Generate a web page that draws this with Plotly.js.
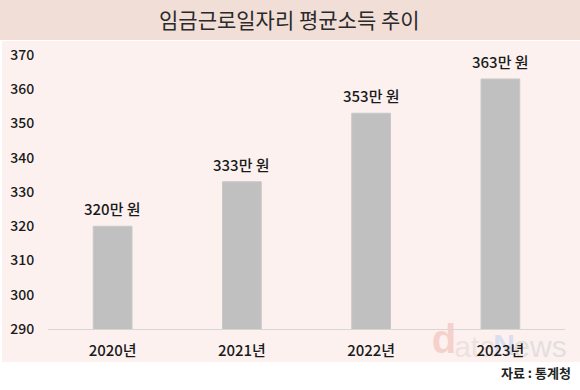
<!DOCTYPE html>
<html><head><meta charset="utf-8">
<script src="https://cdn.plot.ly/plotly-3.0.1.min.js"></script>
<style>html,body{margin:0;padding:0;background:#fff}#c{width:580px;height:390px}</style>
</head><body><div id="c"></div>
<script>
const categories = ['2020년', '2021년', '2022년', '2023년'];
const values = [320, 333, 353, 363];
const valueLabels = ['320만 원', '333만 원', '353만 원', '363만 원'];
const yTicks = [290, 300, 310, 320, 330, 340, 350, 360, 370];
const titleText = '임금근로일자리 평균소득 추이';
const sourceText = '자료 : 통계청';

const W = 580, H = 390, L = 48, R = 15, T = 55, B = 61;
const pw = W - L - R, ph = H - T - B;
const px = x => (x - L) / pw;
const py = y => (H - B - y) / ph;

const font = 'Noto Sans CJK KR, Noto Sans, sans-serif';

const annotations = values.map((v, i) => ({
  x: categories[i], y: v, xref: 'x', yref: 'y', text: valueLabels[i],
  showarrow: false, yanchor: 'bottom', yshift: 5,
  font: {family: font, size: 15, color: '#1a1a1a', weight: 500}
}));
annotations.push({
  xref: 'paper', yref: 'paper', x: px(573), y: py(372), xanchor: 'right', yanchor: 'middle',
  text: '<b>' + sourceText + '</b>', showarrow: false,
  font: {family: font, size: 13, color: '#222'}
});
annotations.push({
  xref: 'paper', yref: 'paper', x: px(289), y: py(19), xanchor: 'center', yanchor: 'middle',
  text: titleText, showarrow: false,
  font: {family: font, size: 21, color: '#2a2a2a'}
});

// faint "dataNews" watermark pieces: [text, centerX, centerY, size, weight, color]
const wmPieces = [
  ['d', 444, 335, 40, 700, '#f6d0cb'],
  ['ata', 475, 343, 30, 400, '#efe1df'],
  ['N', 504, 341, 30, 700, '#d9def0'],
  ['ews', 540, 343, 30, 400, '#e3dfdf']
];
const wmFont = 'Liberation Sans, Arial, sans-serif';

const shapes = [
  {type: 'rect', xref: 'paper', yref: 'paper', x0: px(0), x1: px(580), y0: py(0), y1: py(40),
   fillcolor: '#f1ded7', line: {width: 0}, layer: 'below'},
  {type: 'rect', xref: 'paper', yref: 'paper', x0: px(2), x1: px(580), y0: py(41), y1: py(362),
   fillcolor: '#fcf1ef', line: {width: 0}, layer: 'below'}
].concat(wmPieces.map(p => ({
  type: 'rect', xref: 'paper', yref: 'paper',
  x0: px(p[1] - 30), x1: px(p[1] + 30), y0: py(p[2] - 20), y1: py(p[2] + 20),
  fillcolor: 'rgba(0,0,0,0)', line: {width: 0}, layer: 'below',
  label: {text: p[0], textposition: 'middle center', padding: 0,
          font: {family: wmFont, size: p[3], weight: p[4], color: p[5]}}
})));

const data = [{
  type: 'bar', x: categories, y: values, width: 0.3,
  marker: {color: '#c0c0c0', line: {color: '#c8c8c8', width: 1}},
  hoverinfo: 'none'
}];

const layout = {
  width: W, height: H,
  margin: {l: L, r: R, t: T, b: B, pad: 0},
  paper_bgcolor: '#ffffff', plot_bgcolor: 'rgba(0,0,0,0)',
  showlegend: false,
  bargap: 0.7,
  xaxis: {
    type: 'category', showgrid: false, zeroline: false,
    showline: true, linecolor: '#d6d6d6', linewidth: 1,
    ticks: 'outside', ticklen: 8, tickcolor: 'rgba(0,0,0,0)',
    tickfont: {family: font, size: 15, color: '#1a1a1a', weight: 500}
  },
  yaxis: {
    range: [290, 370], tickvals: yTicks, showgrid: false, zeroline: false,
    showline: false, ticks: 'outside', ticklen: 10, tickcolor: 'rgba(0,0,0,0)',
    tickfont: {family: font, size: 14, color: '#1a1a1a', weight: 500}
  },
  shapes: shapes,
  annotations: annotations
};

Plotly.newPlot('c', data, layout, {staticPlot: true, displayModeBar: false});
</script>
</body></html>
